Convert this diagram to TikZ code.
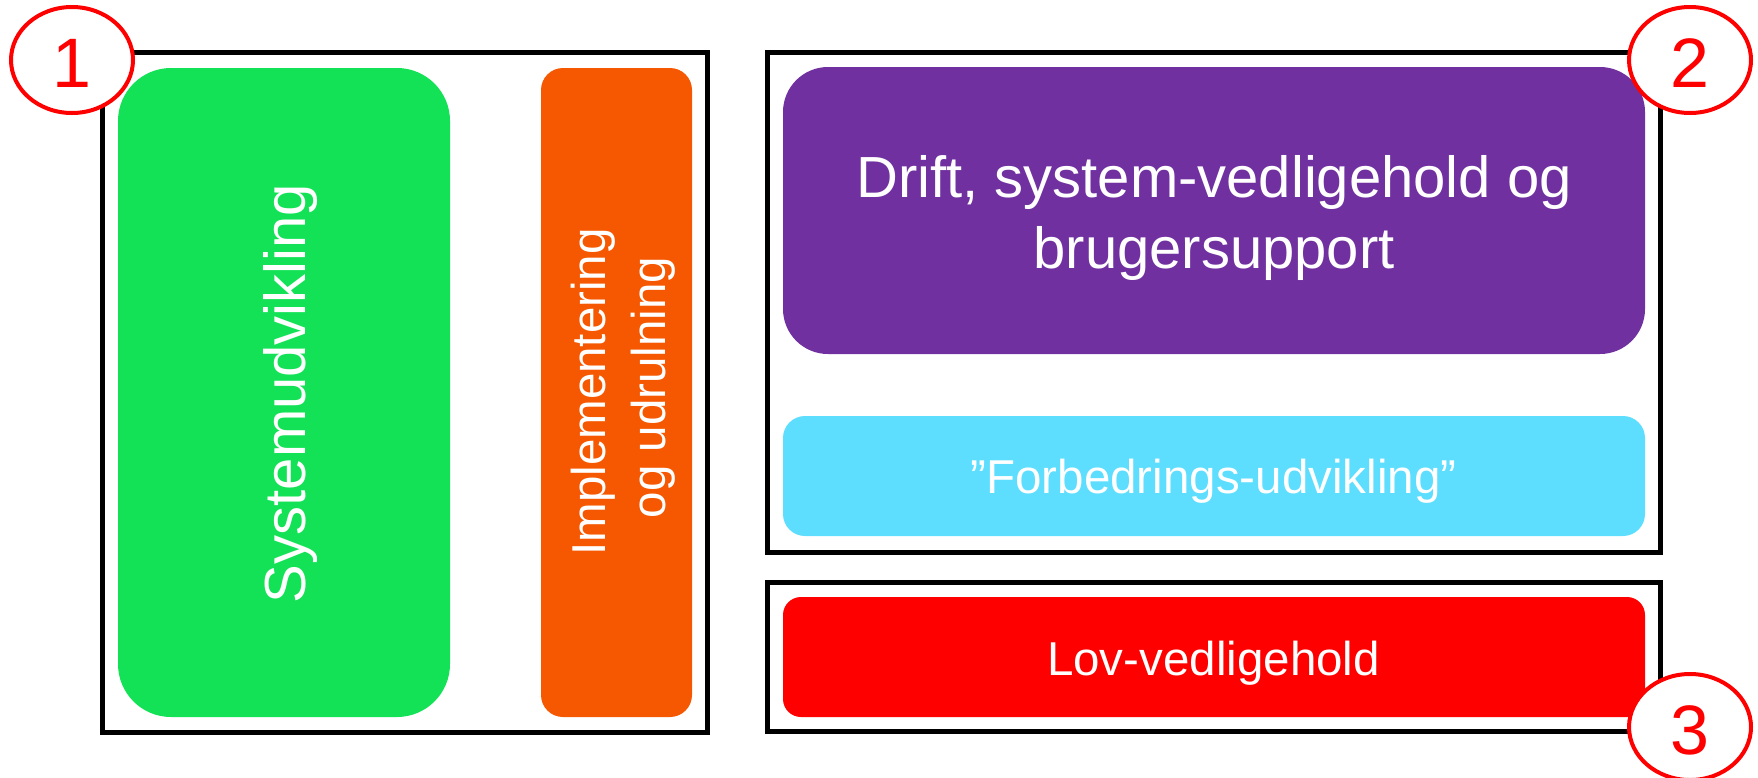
\documentclass[tikz,border=0pt]{standalone}
\usepackage{fontspec}
\setmainfont{Liberation Sans}
\usetikzlibrary{shapes.geometric}
\definecolor{sysgreen}{RGB}{19,226,86}
\definecolor{implorange}{RGB}{245,88,0}
\definecolor{driftpurple}{RGB}{112,48,160}
\definecolor{forbcyan}{RGB}{93,222,255}
\definecolor{lovred}{RGB}{255,0,0}
\definecolor{markred}{RGB}{255,0,0}
\tikzset{
  frame/.style={draw=black, line width=5pt, inner sep=0pt, fill=none},
  block/.style={inner sep=0pt},
  bigtext/.style={inner sep=0pt, anchor=base, text=white, font=\fontsize{58}{70}\selectfont},
  smalltext/.style={inner sep=0pt, anchor=base, text=white, font=\fontsize{47.5}{57}\selectfont},
  marker/.style={ellipse, draw=markred, fill=white, line width=4pt, inner sep=0pt,
    minimum width=122pt, minimum height=106pt},
  markernum/.style={inner sep=0pt, anchor=base, text=markred, font=\fontsize{70}{80}\selectfont}
}
\begin{document}
\begin{tikzpicture}[x=1pt, y=-1pt]
\useasboundingbox (0,0) rectangle (1758,777);
% outer frames
\node[frame, minimum width=605pt, minimum height=680pt] (f1) at (405,392.5) {};
\node[frame, minimum width=893pt, minimum height=500pt] (f2) at (1213.5,302.5) {};
\node[frame, minimum width=893pt, minimum height=149pt] (f3) at (1213.5,657) {};
% coloured blocks
\node[block, fill=sysgreen, rounded corners=53pt,
      minimum width=332pt, minimum height=649pt] (sys) at (284,392.5) {};
\node[block, fill=implorange, rounded corners=22pt,
      minimum width=151pt, minimum height=649pt] (impl) at (616.5,392.5) {};
\node[block, fill=driftpurple, rounded corners=45pt,
      minimum width=862pt, minimum height=287pt] (drift) at (1214,210.5) {};
\node[block, fill=forbcyan, rounded corners=22pt,
      minimum width=862pt, minimum height=120pt] (forb) at (1214,476) {};
\node[block, fill=lovred, rounded corners=18pt,
      minimum width=862pt, minimum height=120pt] (lov) at (1214,657) {};
% block texts
\node[bigtext, rotate=90] (systxt) at (305,393.5) {Systemudvikling};
\node[smalltext, rotate=90] (impltxta) at (605,392) {Implementering};
\node[smalltext, rotate=90] (impltxtb) at (665,387.5) {og udrulning};
\node[bigtext] (drifttxta) at (1214,197) {Drift, system-vedligehold og};
\node[bigtext] (drifttxtb) at (1214,268) {brugersupport};
\node[smalltext] (forbtxt) at (1213.5,493) {”Forbedrings-udvikling”};
\node[smalltext] (lovtxt) at (1213.5,675) {Lov-vedligehold};
% numbered markers
\node[marker] (m1) at (72,60) {};
\node[marker] (m2) at (1690,60) {};
\node[marker] (m3) at (1690,727) {};
\node[markernum] (n1) at (m1.center) [yshift=-27pt] {1};
\node[markernum] (n2) at (m2.center) [yshift=-27pt] {2};
\node[markernum] (n3) at (m3.center) [yshift=-27pt] {3};
\end{tikzpicture}
\end{document}
